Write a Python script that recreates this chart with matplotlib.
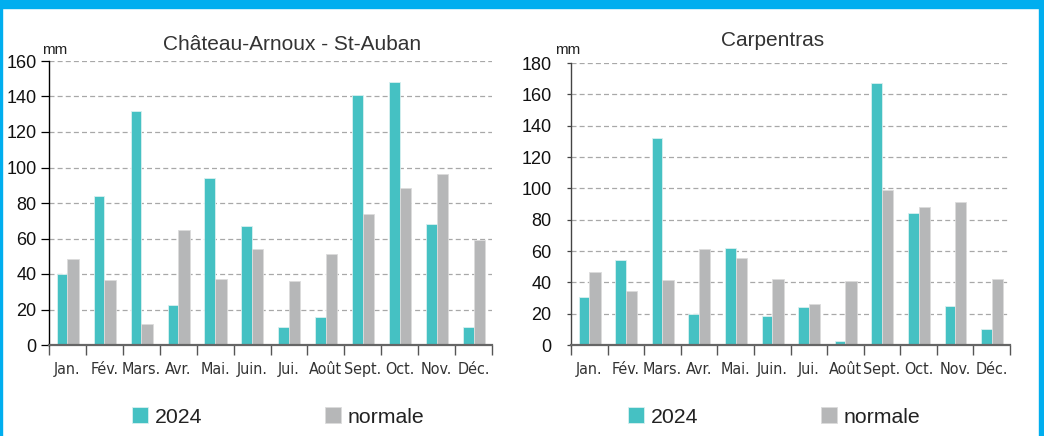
import numpy as np
import matplotlib.pyplot as plt
from matplotlib import font_manager
from matplotlib.patches import Rectangle

# Données (mm)
mois = ['Jan.', 'Fév.', 'Mars.', 'Avr.', 'Mai.', 'Juin.', 'Jui.', 'Août',
        'Sept.', 'Oct.', 'Nov.', 'Déc.']

chateau_2024 = [40, 84, 132, 22.5, 94, 67, 10, 16, 141, 148, 68, 10]
chateau_normale = [48.7, 36.4, 12, 65, 37.2, 54, 36, 51.3, 74, 88.5, 96.5, 59.3]

carp_2024 = [30.5, 54.5, 132, 19.6, 61.7, 18.3, 24.3, 2.8, 167, 84, 25.2, 10.2]
carp_normale = [46.6, 34.5, 41.5, 61.3, 55.8, 42, 26, 41, 99, 88, 91, 42.2]

TEAL = '#45c1c3'
GRIS = '#b6b7b8'
BLEU = '#00aeef'
W, H = 1044, 436

plt.rcParams['font.family'] = ['Liberation Sans', 'DejaVu Sans']

# police étroite pour les mois, si disponible
fonts = font_manager.fontManager.ttflist
noms = {f.name for f in fonts}
if 'Liberation Sans Narrow' in noms:
    mois_font = dict(family='Liberation Sans Narrow', fontsize=12.5)
elif any(f.name == 'DejaVu Sans' and 'condensed' in str(f.stretch) for f in fonts):
    mois_font = dict(family='DejaVu Sans', fontstretch='condensed', fontsize=11.5)
else:
    mois_font = dict(family='Liberation Sans', fontsize=11)

fig = plt.figure(figsize=(W / 100, H / 100), dpi=100)
fig.patch.set_facecolor('white')


def px_axes(left, top, right, bottom):
    return fig.add_axes([left / W, 1 - bottom / H, (right - left) / W, (bottom - top) / H])


def draw(ax, v2024, vnorm, ymax, titre, tx, ty, mmx, spine_col, ylen, ypad):
    x = np.arange(len(mois))
    b1 = ax.bar(x + 0.21, v2024, width=0.29, align='edge', color=TEAL,
                edgecolor='#d8f0f0', linewidth=0.6, zorder=3)
    b2 = ax.bar(x + 0.5, vnorm, width=0.31, align='edge', color=GRIS,
                edgecolor='#dcdcdc', linewidth=0.6, zorder=3)
    ax.set_xlim(0, 12)
    ax.set_ylim(0, ymax)
    ax.set_yticks(np.arange(0, ymax + 1, 20))
    ax.yaxis.grid(True, color='#a8a8a8', linestyle=(0, (4, 2.5)), linewidth=0.9, zorder=1)
    ax.set_axisbelow(True)
    for s in ['top', 'right']:
        ax.spines[s].set_visible(False)
    ax.spines['left'].set_color(spine_col)
    ax.spines['left'].set_linewidth(1.0)
    ax.spines['bottom'].set_color('#666666')
    ax.spines['bottom'].set_linewidth(1.6)
    ax.spines['bottom'].set_zorder(4)
    ax.tick_params(axis='y', direction='out', length=ylen, width=0.9, color=spine_col,
                   labelsize=13, pad=ypad, labelcolor='#111111')
    ax.set_xticks(np.arange(0, 13))
    ax.set_xticklabels([])
    ax.tick_params(axis='x', which='major', direction='out', length=7, width=1.0, color='#555555')
    ax.set_xticks(x + 0.5, minor=True)
    ax.set_xticklabels(mois, minor=True, color='#333333', **mois_font)
    ax.tick_params(axis='x', which='minor', length=0, pad=12)
    fig.text(tx / W, 1 - ty / H, titre, fontsize=15, color='#333333', ha='center', va='baseline')
    fig.text(mmx / W, 1 - 54 / H, 'mm', fontsize=11, color='#222222', ha='left', va='baseline')
    return b1, b2


ax1 = px_axes(49, 61, 492, 345)
h1 = draw(ax1, chateau_2024, chateau_normale, 160, 'Château-Arnoux - St-Auban', 292.5, 50, 42,
          '#000000', 6, 3)
ax2 = px_axes(571, 63, 1010, 345)
h2 = draw(ax2, carp_2024, carp_normale, 180, 'Carpentras', 773, 46, 555, '#444444', 3, 11)

for ax, h, lx in [(ax1, h1, 132), (ax2, h2, 628)]:
    ax.legend(h, ['2024', 'normale'], loc='center left',
              bbox_to_anchor=(lx / W, 1 - 417 / H), bbox_transform=fig.transFigure,
              ncol=2, frameon=False, fontsize=15.3, borderpad=0, borderaxespad=0,
              handlelength=0.75, handleheight=0.75, handletextpad=0.33,
              columnspacing=5.75, labelcolor='#222222')

# cadre bleu
fig.patches.append(Rectangle((0, 1 - 8 / H), 1, 8 / H, transform=fig.transFigure,
                             color=BLEU, zorder=10))
fig.patches.append(Rectangle((0, 0), 2 / W, 1, transform=fig.transFigure,
                             color=BLEU, zorder=10))
fig.patches.append(Rectangle((1039 / W, 0), 4 / W, 1, transform=fig.transFigure,
                             color=BLEU, zorder=10))

fig.savefig('out.png', dpi=100, facecolor='white')
